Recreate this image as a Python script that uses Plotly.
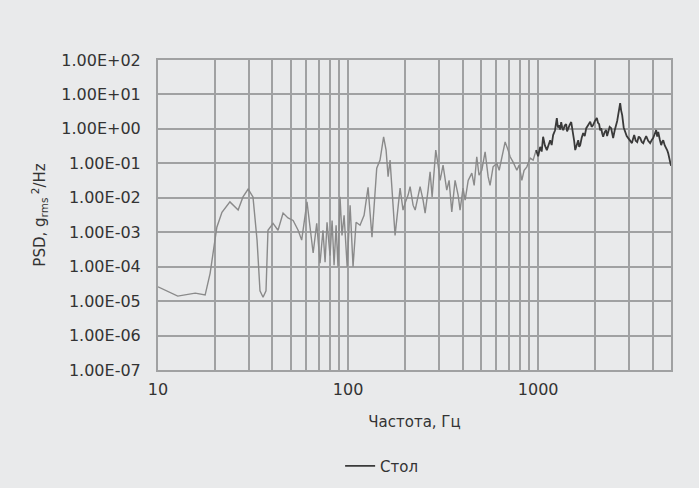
import plotly.graph_objects as go

# Frequency, Hz
freq = [10, 12.7, 15.7, 17.7, 18.8, 20.4, 21.7, 23.9, 26.4, 28.0, 29.8, 31.6, 33.2, 34.4, 35.7, 37.0,
        37.9, 40.3, 42.8, 45.5, 48.3, 51.4, 54.6, 57.0, 60.8, 63.1, 65.5, 68.4, 71.2, 73.8, 75.7, 77.5,
        80.4, 82.4, 84.4, 86.5, 88.5, 90.7, 92.9, 95.3, 98.9, 102.5, 106.2, 110.2, 115.6, 121.4, 127.4,
        133.6, 141.5, 147.3, 153.8, 158.5, 162.4, 166.3, 176.7, 187.8, 194.6, 199.5, 206.9, 212, 219.8,
        225.4, 233.5, 239.3, 248.1, 254.3, 263.6, 270.1, 276.8, 289.3, 297.7, 305, 316, 330.5, 340,
        351.3, 365.6, 379.3, 388.3, 402.5, 413, 428.5, 447.8, 460.7, 475.4, 488.7, 505.3, 526, 545.6,
        558.5, 579.4, 606.2, 623.7, 647.1, 670.4, 695, 712.3, 738.6, 772.5, 794.6, 820.6, 843.5, 872.2,
        907.8, 941.1, 975.9]
# PSD, g_rms^2/Hz
psd = [2.6e-5, 1.4e-5, 1.7e-5, 1.5e-5, 6.4e-5, 1.4e-3, 3.8e-3, 7.6e-3, 4.4e-3, 1.06e-2, 1.78e-2, 1.06e-2,
       5.9e-4, 2.0e-5, 1.3e-5, 2.0e-5, 1.14e-3, 1.8e-3, 1.14e-3, 3.6e-3, 2.6e-3, 2.2e-3, 1.14e-3, 5.9e-4,
       7.6e-3, 1.6e-3, 2.5e-4, 1.8e-3, 1.26e-4, 1.14e-3, 1.35e-4, 1.95e-3, 2.1e-4, 2.2e-3, 1.1e-4, 1.6e-3,
       1.0e-4, 1.06e-2, 8.1e-4, 3.1e-3, 1.0e-4, 6.1e-3, 1.0e-4, 1.95e-3, 1.6e-3, 3.1e-3, 2.0e-2, 7.2e-4,
       7.2e-2, 0.124, 0.59, 0.242, 4.1e-2, 0.124, 8.1e-4, 1.9e-2, 4.4e-3, 7.0e-3, 1.2e-2, 2.1e-2, 6.1e-3,
       4.4e-3, 1.2e-2, 2.1e-2, 8.5e-3, 3.6e-3, 1.66e-2, 5.7e-2, 1.06e-2, 0.242, 8.9e-2, 3.2e-2, 8.9e-2,
       1.66e-2, 3.2e-2, 3.9e-3, 3.2e-2, 1.2e-2, 4.4e-3, 1.9e-2, 8.5e-3, 3.2e-2, 5.2e-2, 2.3e-2, 0.155,
       4.5e-2, 6.3e-2, 0.216, 4.1e-2, 2.3e-2, 7.9e-2, 0.101, 6.3e-2, 0.174, 0.42, 0.242, 0.155, 0.108,
       6.3e-2, 8.9e-2, 3.2e-2, 6.3e-2, 7.9e-2, 0.142, 0.124, 0.242]

# High-frequency part (dense, darker trace)
freq_hi = [975.9, 1000, 1025, 1044, 1062, 1085, 1111, 1133, 1157, 1178, 1199, 1226, 1254, 1270, 1290,
           1305, 1322, 1338, 1355, 1380, 1404, 1420, 1439, 1465, 1493, 1510, 1528, 1547, 1567, 1596,
           1625, 1644, 1664, 1695, 1726, 1758, 1791, 1835, 1879, 1912, 1946, 1990, 2036, 2065, 2094,
           2120, 2147, 2172, 2198, 2238, 2279, 2306, 2334, 2378, 2421, 2451, 2481, 2527, 2574, 2605,
           2636, 2668, 2701, 2734, 2768, 2819, 2871, 2924, 2978, 3046, 3115, 3158, 3201, 3260, 3320,
           3382, 3444, 3508, 3573, 3637, 3702, 3793, 3884, 3955, 4027, 4100, 4177, 4230, 4284, 4362,
           4440, 4495, 4551, 4636, 4721, 4776, 4831, 4915, 5000]
psd_hi = [0.242, 0.16, 0.30, 0.22, 0.59, 0.33, 0.242, 0.36, 0.47, 0.34, 0.66, 0.9, 2.06, 1.1, 1.29,
          0.95, 1.58, 1.1, 0.92, 1.25, 1.38, 0.85, 1.05, 1.3, 1.58, 1.1, 0.81, 0.45, 0.242, 0.36,
          0.47, 0.3, 0.338, 0.55, 0.755, 0.62, 1.05, 1.3, 1.61, 1.15, 1.29, 1.7, 2.06, 1.5, 1.38,
          0.9, 1.05, 0.75, 0.59, 0.8, 0.92, 0.62, 0.755, 1.15, 1.05, 0.7, 0.54, 0.9, 1.29, 1.7,
          2.52, 3.6, 5.6, 3.4, 2.52, 1.1, 0.755, 0.62, 0.54, 0.45, 0.386, 0.52, 0.66, 0.45, 0.413,
          0.6, 0.54, 0.42, 0.386, 0.5, 0.616, 0.45, 0.386, 0.47, 0.54, 0.7, 0.92, 0.6, 0.81, 0.5,
          0.338, 0.42, 0.47, 0.33, 0.277, 0.24, 0.198, 0.13, 0.085]

y_ticks = [1e-7, 1e-6, 1e-5, 1e-4, 1e-3, 1e-2, 1e-1, 1e0, 1e1, 1e2]
y_labels = ["1.00E-07", "1.00E-06", "1.00E-05", "1.00E-04", "1.00E-03", "1.00E-02",
            "1.00E-01", "1.00E+00", "1.00E+01", "1.00E+02"]
x_ticks = [10, 100, 1000]
x_labels = ["10", "100", "1000"]
x_minor = [20, 30, 40, 50, 60, 70, 80, 90, 200, 300, 400, 500, 600, 700, 800, 900,
           2000, 3000, 4000]

series_name = "Стол"
FONT = "DejaVu Sans"
BG = "#e9eaeb"
GRID = "#a0a1a2"

fig = go.Figure()
fig.add_trace(go.Scatter(x=freq, y=psd, mode="lines", line=dict(color="#8a8a8a", width=1.4),
                         showlegend=False, hoverinfo="skip"))
fig.add_trace(go.Scatter(x=freq_hi, y=psd_hi, mode="lines", line=dict(color="#3a3a3a", width=1.8),
                         name=series_name))

fig.update_layout(
    width=699, height=488,
    margin=dict(l=158, r=28, t=60, b=118, autoexpand=False),
    paper_bgcolor=BG, plot_bgcolor=BG,
    font=dict(family=FONT, size=16, color="#333333"),
    showlegend=True,
    legend=dict(orientation="h", x=0.355, xanchor="left", y=-0.31, yanchor="middle",
                bgcolor="rgba(0,0,0,0)", font=dict(size=15, color="#333333")),
    xaxis=dict(
        type="log", range=[1, 3.69897],
        tickmode="array", tickvals=x_ticks, ticktext=x_labels,
        showgrid=True, gridcolor=GRID, gridwidth=2.4,
        minor=dict(tickmode="array", tickvals=x_minor, showgrid=True, gridcolor=GRID, gridwidth=1.6),
        showline=True, linecolor=GRID, linewidth=2, mirror=True,
        ticks="", zeroline=False,
        title=dict(text="Частота, Гц", standoff=18, font=dict(size=15)),
        ticklabelstandoff=4,
        tickfont=dict(size=16),
    ),
    yaxis=dict(
        type="log", range=[-7, 2],
        tickmode="array", tickvals=y_ticks, ticktext=y_labels,
        showgrid=True, gridcolor=GRID, gridwidth=2,
        showline=True, linecolor=GRID, linewidth=2, mirror=True,
        ticks="", zeroline=False,
        title=dict(text="PSD, g<sub>rms</sub><sup> 2</sup>/Hz", standoff=12, font=dict(size=15)),
        ticklabelstandoff=12,
        tickfont=dict(size=16),
    ),
)

fig.write_html("out.html", config={"displayModeBar": False},
               post_script="document.body.style.margin='0';document.body.style.background='%s';" % BG)
